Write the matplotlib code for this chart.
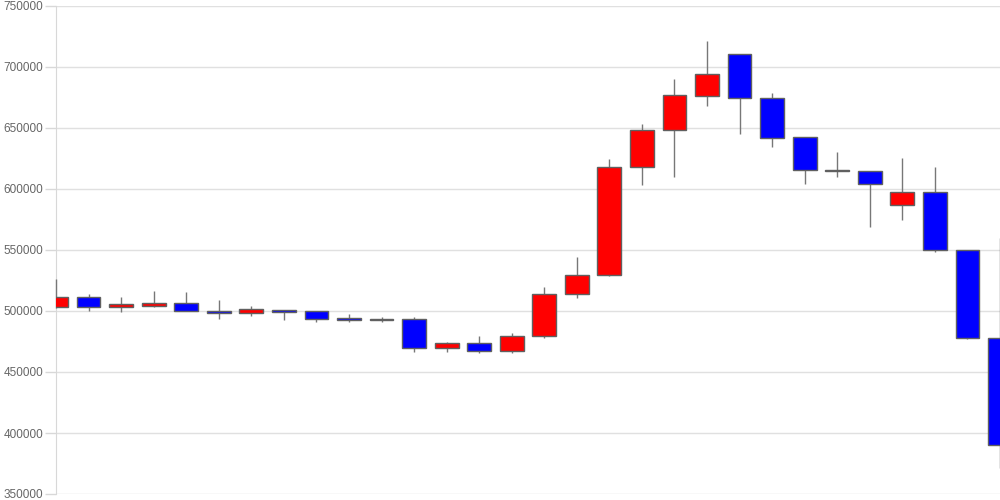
import matplotlib.pyplot as plt
import numpy as np

# daily OHLC
opens = [503500, 511200, 503000, 504100, 506300, 500200, 498600, 500800, 500000, 494300,
         493500, 493200, 469900, 473800, 467000, 479800, 513700, 529500, 618000, 648100,
         676600, 710400, 674800, 642400, 615800, 614800, 587100, 597300, 549800, 478100]
highs = [526000, 513900, 511200, 516100, 515600, 509000, 504100, 500800, 500000, 497500,
         494800, 494800, 474800, 479500, 482000, 519400, 544300, 624300, 653300, 689900,
         721300, 710400, 678400, 642400, 630300, 614800, 625700, 618000, 549800, 560100]
lows = [502500, 500200, 498900, 503000, 499700, 493700, 496100, 492600, 491200, 491200,
        491200, 466600, 466600, 465300, 465300, 477600, 510400, 528900, 603000, 610100,
        668300, 645100, 634700, 604100, 609600, 568600, 574800, 548100, 477300, 371100]
closes = [511200, 503000, 505700, 506300, 499700, 498600, 501400, 499200, 493700, 492600,
          493000, 469900, 473800, 467000, 479800, 513700, 529500, 618300, 648400, 677000,
          693900, 674300, 642000, 615300, 614500, 603900, 597300, 549800, 478100, 390200]

x = np.arange(len(opens))
o = np.array(opens)
c = np.array(closes)
up = c >= o
colors = np.where(up, '#ff0000', '#0000ff')

fig = plt.figure(figsize=(10, 5), dpi=100)
ax = fig.add_axes([0.056, 0.012, 0.944, 0.976])

# wicks are not clipped so the half-visible first/last candles keep theirs
ax.vlines(x, lows, highs, color='#777777', linewidth=1, zorder=2.6, clip_on=False)
ax.bar(x, np.abs(c - o), bottom=np.minimum(o, c), width=0.73, color=colors,
       edgecolor='#606060', linewidth=1, zorder=3)

ax.set_xlim(0, len(opens) - 1)
ax.set_ylim(350000, 750000)
ax.set_yticks(np.arange(350000, 750001, 50000))
ax.set_xticks([])
ax.grid(axis='y', color='#e0e0e0', linewidth=1, zorder=0)
ax.set_axisbelow(True)
for s in ('top', 'right', 'bottom'):
    ax.spines[s].set_visible(False)
ax.spines['left'].set_color('#d8d8d8')
ax.tick_params(axis='y', length=8, width=1, color='#d8d8d8', pad=1,
               labelsize=8.5, labelcolor='#666666')
for lbl in ax.get_yticklabels():
    lbl.set_fontfamily('Liberation Sans')

fig.savefig('out.png', dpi=100)
